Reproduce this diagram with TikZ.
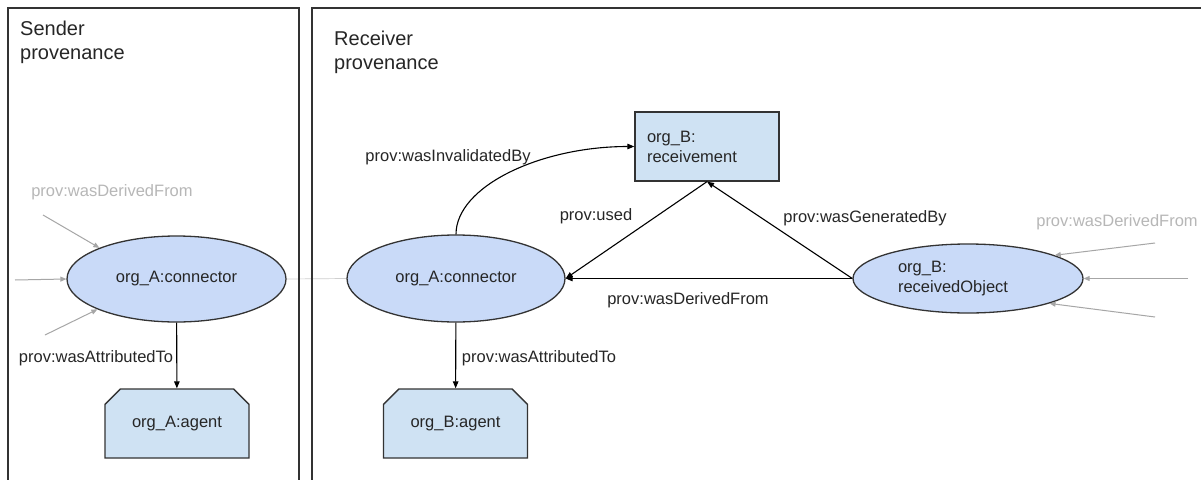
\documentclass[tikz,border=0pt]{standalone}
\usepackage{fontspec}
\setmainfont{Liberation Sans}
\usetikzlibrary{arrows.meta,shapes.geometric,shapes.misc,backgrounds}
\definecolor{edge}{HTML}{333333}
\definecolor{entfill}{HTML}{C9DAF8}
\definecolor{actfill}{HTML}{CFE2F3}
\definecolor{faint}{HTML}{A6A6A6}
\definecolor{faintlabel}{HTML}{B7B7B7}
\definecolor{hair}{HTML}{CFCFCF}

\begin{document}
\begin{tikzpicture}[x=1pt,y=-1pt,
  lbl/.style={font=\fontsize{16.5}{20}\selectfont, text=black!85, inner sep=0pt},
  ghostlbl/.style={lbl, text=faintlabel},
  ttl/.style={font=\fontsize{20}{24}\selectfont, text=black!85, align=left, anchor=north west, inner sep=0pt},
  entity/.style={ellipse, draw=edge, line width=1.3pt, fill=entfill,
    font=\fontsize{16.5}{20}\selectfont, text=black!85, inner sep=2pt},
  activity/.style={rectangle, draw=edge, line width=1.3pt, fill=actfill,
    font=\fontsize{16.5}{20}\selectfont, text=black!85, align=left,
    minimum width=144pt, minimum height=69pt, text width=120pt, inner xsep=12pt},
  agentbox/.style={chamfered rectangle, chamfered rectangle corners={north west,north east},
    chamfered rectangle xsep=8pt, chamfered rectangle ysep=8pt,
    draw=edge, line width=1.3pt, fill=actfill,
    font=\fontsize{16.5}{20}\selectfont, text=black!85,
    minimum width=144pt, minimum height=69pt, inner sep=0pt},
  rel/.style={draw=black, line width=1.1pt, -{Triangle[length=7pt,width=5.5pt]}},
  ghost/.style={draw=faint, line width=1pt, -{Triangle[length=6pt,width=5pt]}},
  panel/.style={draw=edge, line width=1.4pt}
]
\useasboundingbox (0,0) rectangle (1201,479);
\clip (0,0) rectangle (1201,479);

% panel titles
\node[ttl] (tsend) at (20,20.5) {Sender\\provenance};
\node[ttl] (trecv) at (334,31) {Receiver\\provenance};

% sender side
\node[entity, minimum width=219pt, minimum height=86pt] (conA) at (176.5,279) {org\_A:connector};
\node[agentbox] (agA) at (177,423.5) {org\_A:agent};

% receiver side
\node[entity, minimum width=218pt, minimum height=87pt] (mid) at (456,278.5) {org\_A:connector};
\node[agentbox] (agB) at (455.5,423.5) {org\_B:agent};
\node[activity] (rcv) at (707,146.5) {org\_B:\\receivement};
\node[entity, minimum width=230pt, minimum height=69pt, text width=140pt, align=left]
  (rob) at (968,278.5) {org\_B:\\receivedObject};

% page, panels and the hairline between the two connectors
\begin{scope}[on background layer]
  \fill[white] (0,0) rectangle (1201,479);
  \draw[hair, line width=0.7pt] (conA.east) -- (mid.west);
  \draw[panel] (8,8) rectangle (299,495);
  \draw[panel] (312,8) rectangle (1215,495);
\end{scope}

% sender relations
\draw[rel] (conA) -- (agA);
\node[lbl] (lA) at (96,358) {prov:wasAttributedTo};

\coordinate (inA1) at (43,215);
\coordinate (inA2) at (15,280);
\coordinate (inA3) at (45,335);
\draw[ghost] (inA1) -- (conA.158);
\draw[ghost] (inA2) -- (conA.west);
\draw[ghost] (inA3) -- (conA.201.6);
\node[ghostlbl] (gA) at (112,192) {prov:wasDerivedFrom};

% receiver relations
\draw[rel] (mid) -- (agB);
\node[lbl] (lB) at (539,358) {prov:wasAttributedTo};

\draw[rel] (mid.north) .. controls +(0,-48) and +(-94,0) .. (rcv.west);
\node[lbl] (lInv) at (448,157) {prov:wasInvalidatedBy};

\draw[rel] (rcv.south) -- (mid.east);
\node[lbl] (lUsed) at (596,216) {prov:used};

\draw[rel] (rob.west) -- (rcv.south);
\node[lbl] (lGen) at (865,218) {prov:wasGeneratedBy};

\draw[rel] (rob.west) -- (mid.east);
\node[lbl] (lDer) at (688,300) {prov:wasDerivedFrom};

\coordinate (inB1) at (1155,243);
\coordinate (inB2) at (1188,278.5);
\coordinate (inB3) at (1155,317);
\draw[ghost] (inB1) -- (rob.15.6);
\draw[ghost] (inB2) -- (rob.east);
\draw[ghost] (inB3) -- (rob.343.7);
\node[ghostlbl] (gB) at (1117,222) {prov:wasDerivedFrom};
\end{tikzpicture}
\end{document}
